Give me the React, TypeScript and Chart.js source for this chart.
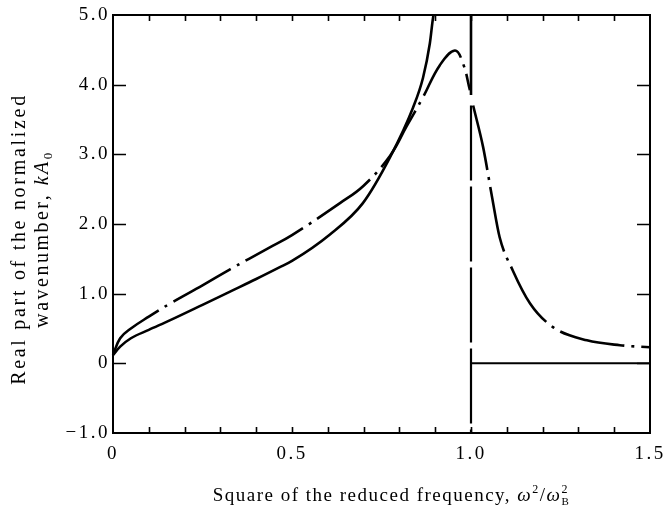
import React, { useEffect, useRef } from 'react';
import { Chart, registerables } from 'chart.js';

Chart.register(...registerables);

// ---- data ----
const solidX = [0, 0.02, 0.05, 0.1, 0.16, 0.25, 0.327, 0.4, 0.466, 0.5, 0.606, 0.698, 0.774, 0.838, 0.866, 0.885, 0.894, 0.9];
const solidY = [0.12, 0.24, 0.36, 0.48, 0.62, 0.84, 1.03, 1.21, 1.38, 1.47, 1.85, 2.3, 2.96, 3.67, 4.1, 4.59, 4.96, 5.1];

const dashLeftX = [0, 0.02, 0.05, 0.1, 0.16, 0.25, 0.327, 0.433, 0.5, 0.634, 0.7, 0.774, 0.82, 0.866, 0.913, 0.955, 0.978, 0.997];
const dashLeftY = [0.12, 0.36, 0.5, 0.67, 0.86, 1.12, 1.35, 1.65, 1.84, 2.3, 2.55, 2.98, 3.4, 3.82, 4.28, 4.49, 4.3, 3.92];

const dashRightX = [1.006, 1.034, 1.059, 1.08, 1.117, 1.165, 1.229, 1.324, 1.416, 1.5];
const dashRightY = [3.7, 3.1, 2.38, 1.81, 1.33, 0.86, 0.52, 0.33, 0.26, 0.23];

const vertTopX = [1.0, 1.0];
const vertTopY = [5.0, 3.85];
const vertDashX = [1.0, 1.0];
const vertDashY = [3.7, -1.0];
const baseX = [1.0, 1.5];
const baseY = [0, 0];

const xLabelValues = [0, 0.5, 1.0, 1.5];
const xLabels = ['0', '0.5', '1.0', '1.5'];
const xMinorTicks = [0.1, 0.2, 0.3, 0.4, 0.5, 0.6, 0.7, 0.8, 0.9, 1.0, 1.1, 1.2, 1.3, 1.4];
const yLabelValues = [-1, 0, 1, 2, 3, 4, 5];
const yLabels = ['\u22121.0', '0', '1.0', '2.0', '3.0', '4.0', '5.0'];
const yMajorTicks = [0, 1, 2, 3, 4];

const FONT = '"Liberation Serif", "Times New Roman", serif';

const pts = (xs: number[], ys: number[]) => xs.map((x, i) => ({ x, y: ys[i] }));

type Seg = { t: string; italic?: boolean; size?: number; dy?: number; stack?: boolean };

function drawRich(ctx: CanvasRenderingContext2D, segs: Seg[], cx: number, baseline: number, base: number, spacing: number) {
  const setFont = (s: Seg) => {
    ctx.font = `${s.italic ? 'italic ' : ''}${s.size ?? base}px ${FONT}`;
  };
  (ctx as any).letterSpacing = spacing + 'px';
  const starts: number[] = [];
  let x = 0;
  let prevStart = 0;
  let prevW = 0;
  segs.forEach((s) => {
    setFont(s);
    const w = ctx.measureText(s.t).width;
    let start: number;
    if (s.stack) {
      start = prevStart;
      x = Math.max(prevStart + prevW, start + w);
    } else {
      start = x;
      x = start + w;
    }
    starts.push(start);
    prevStart = start;
    prevW = w;
  });
  const ox = cx - x / 2;
  ctx.textAlign = 'left';
  ctx.textBaseline = 'alphabetic';
  ctx.fillStyle = '#000';
  segs.forEach((s, i) => {
    setFont(s);
    ctx.fillText(s.t, ox + starts[i], baseline + (s.dy ?? 0));
  });
}

const framePlugin = {
  id: 'framePlugin',
  beforeDraw(chart: any) {
    (chart.ctx as any).letterSpacing = '2.5px';
  },
  afterDatasetsDraw(chart: any) {
    const { ctx, chartArea: a, scales } = chart;
    const xs = scales.x;
    const ys = scales.y;
    ctx.save();
    ctx.strokeStyle = '#000';
    ctx.lineWidth = 2;
    ctx.strokeRect(a.left, a.top, a.right - a.left, a.bottom - a.top);
    ctx.lineWidth = 1.6;
    ctx.beginPath();
    xMinorTicks.forEach((v) => {
      const px = Math.round(xs.getPixelForValue(v)) + 0.5;
      ctx.moveTo(px, a.bottom);
      ctx.lineTo(px, a.bottom - 6);
      ctx.moveTo(px, a.top);
      ctx.lineTo(px, a.top + 6);
    });
    yMajorTicks.forEach((v) => {
      const py = Math.round(ys.getPixelForValue(v)) + 0.5;
      ctx.moveTo(a.left, py);
      ctx.lineTo(a.left + 13, py);
      ctx.moveTo(a.right, py);
      ctx.lineTo(a.right - 13, py);
    });
    ctx.stroke();
    ctx.restore();
  },
  afterDraw(chart: any) {
    const { ctx, chartArea: a } = chart;
    ctx.save();
    // x-axis title
    drawRich(
      ctx,
      [
        { t: 'Square of the reduced frequency, ' },
        { t: '\u03c9', italic: true },
        { t: '2', size: 12, dy: -8 },
        { t: '/' },
        { t: '\u03c9', italic: true },
        { t: '2', size: 12, dy: -8 },
        { t: 'B', size: 11, dy: 4, stack: true },
      ],
      (a.left + a.right) / 2 + 10,
      501,
      19,
      1.5
    );
    // y-axis title (two lines, rotated)
    ctx.save();
    ctx.translate(25, 239);
    ctx.rotate(-Math.PI / 2);
    drawRich(ctx, [{ t: 'Real part of the normalized' }], 0, 0, 20, 2.7);
    ctx.restore();
    ctx.save();
    ctx.translate(48, 239);
    ctx.rotate(-Math.PI / 2);
    drawRich(
      ctx,
      [
        { t: 'wavenumber, ' },
        { t: 'kA', italic: true },
        { t: '0', size: 13, dy: 4 },
      ],
      0,
      0,
      20,
      2.5
    );
    ctx.restore();
    ctx.restore();
  },
};

export default function App() {
  const ref = useRef<HTMLCanvasElement | null>(null);
  useEffect(() => {
    document.body.style.margin = '0';
    const canvas = ref.current!;
    const common = { borderColor: '#000', pointRadius: 0, fill: false, tension: 0.35 };
    const chart = new Chart(canvas, {
      type: 'line',
      data: {
        datasets: [
          { ...common, label: 'solid', data: pts(solidX, solidY), borderWidth: 2.6, cubicInterpolationMode: 'monotone' },
          { ...common, label: 'dashLeft', data: pts(dashLeftX, dashLeftY), borderWidth: 2.6, borderDash: [66, 7, 3, 7], tension: 0.4 },
          { ...common, label: 'dashRight', data: pts(dashRightX, dashRightY), borderWidth: 2.6, borderDash: [66, 7, 3, 7], cubicInterpolationMode: 'monotone' },
          { ...common, label: 'vertTop', data: pts(vertTopX, vertTopY), borderWidth: 2.6, tension: 0 },
          { ...common, label: 'vertDash', data: pts(vertDashX, vertDashY), borderWidth: 2.2, borderDash: [75, 6], tension: 0 },
          { ...common, label: 'base', data: pts(baseX, baseY), borderWidth: 2, tension: 0 },
        ],
      },
      options: {
        animation: false,
        responsive: false,
        devicePixelRatio: 1,
        parsing: false as any,
        clip: { left: 2, right: 2, top: 0, bottom: 2 } as any,
        layout: { padding: { left: 0, right: 14, top: 15, bottom: 0 } },
        plugins: { legend: { display: false }, tooltip: { enabled: false }, title: { display: false } },
        scales: {
          x: {
            type: 'linear',
            min: 0,
            max: 1.5,
            grid: { display: false, drawTicks: false },
            border: { display: false },
            afterBuildTicks: (s: any) => {
              s.ticks = xLabelValues.map((v) => ({ value: v }));
            },
            afterFit: (s: any) => {
              s.height = 77;
              s.paddingLeft = 0;
              s.paddingRight = 0;
            },
            ticks: {
              autoSkip: false,
              maxRotation: 0,
              padding: 10,
              color: '#000',
              font: { family: FONT, size: 19 },
              callback: (v: any) => {
                const i = xLabelValues.findIndex((t) => Math.abs(t - Number(v)) < 1e-6);
                return i >= 0 ? xLabels[i] : '';
              },
            },
          },
          y: {
            type: 'linear',
            min: -1,
            max: 5,
            grid: { display: false, drawTicks: false },
            border: { display: false },
            afterBuildTicks: (s: any) => {
              s.ticks = yLabelValues.map((v) => ({ value: v }));
            },
            afterFit: (s: any) => {
              s.width = 113;
              s.paddingTop = 0;
              s.paddingBottom = 0;
            },
            ticks: {
              autoSkip: false,
              padding: 3,
              color: '#000',
              font: { family: FONT, size: 19 },
              callback: (v: any) => {
                const i = yLabelValues.findIndex((t) => Math.abs(t - Number(v)) < 1e-6);
                return i >= 0 ? yLabels[i] : '';
              },
            },
          },
        },
      },
      plugins: [framePlugin],
    });
    return () => chart.destroy();
  }, []);
  return (
    <div style={{ width: 664, height: 510 }}>
      <canvas ref={ref} width={664} height={510} style={{ display: 'block', width: 664, height: 510 }} />
    </div>
  );
}
